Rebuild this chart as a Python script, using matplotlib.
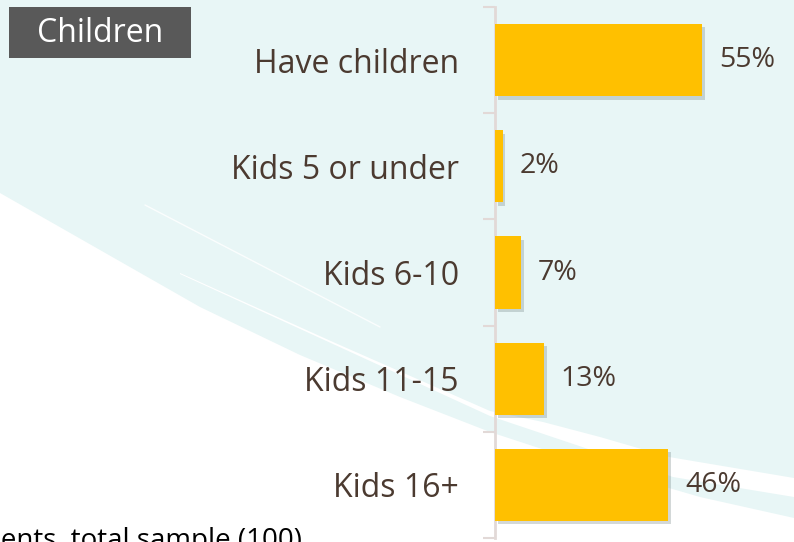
import matplotlib.pyplot as plt
import matplotlib.patheffects as pe
from matplotlib.patches import Polygon, Rectangle
import numpy as np

plt.rcParams['font.family'] = ['Open Sans', 'DejaVu Sans']

categories = ["Have children", "Kids 5 or under", "Kids 6-10", "Kids 11-15", "Kids 16+"]
values = [55, 2, 7, 13, 46]
value_labels = ["55%", "2%", "7%", "13%", "46%"]
title = "Children"
base_note = "Base: all respondents, total sample (100)"

bar_color = "#FFC000"
text_color = "#4B3A30"
bg_cyan = "#E8F6F6"
spine_color = "#E2D9D7"

W, H = 794, 542
fig = plt.figure(figsize=(W / 100, H / 100), dpi=100)
fig.patch.set_facecolor("white")

# decorative background swoosh, in pixel coordinates
bg = fig.add_axes([0, 0, 1, 1], zorder=-1)
bg.set_xlim(0, W)
bg.set_ylim(H, 0)
bg.axis("off")
edge = [(0, 193), (100, 250), (200, 307), (300, 355), (400, 397), (490, 432),
        (600, 468), (700, 497), (794, 518)]
bg.add_patch(Polygon([(0, 0), (W, 0)] + edge[::-1], closed=True,
                     facecolor=bg_cyan, edgecolor="none"))
stripe_top = [(180, 273), (333, 342), (490, 411), (543, 422), (600, 437), (669, 457), (794, 478)]
stripe_bot = [(794, 497), (673, 477), (600, 453), (490, 416), (333, 344), (180, 274)]
bg.add_patch(Polygon(stripe_top + stripe_bot, closed=True, facecolor="white", edgecolor="none"))
bg.plot([145, 380], [205, 327], color="white", lw=1, alpha=0.8, solid_capstyle="round")

# section title box
bg.add_patch(Rectangle((9, 7), 182, 51, facecolor="#595959", edgecolor="none"))
bg.text(100, 33, title, ha="center", va="center", fontsize=23, color="white")

# main bar chart
ax = fig.add_axes([495 / W, 4 / H, (W - 495) / W, 531 / H])
ax.patch.set_alpha(0)
y = np.arange(len(categories))
bars = ax.barh(y, values, height=0.68, color=bar_color, zorder=3)
for b in bars:
    b.set_path_effects([pe.SimplePatchShadow(offset=(2, -2.5), shadow_rgbFace="#6f7f80", alpha=0.3),
                        pe.Normal()])

ax.set_xlim(0, (W - 495) / 3.77)
ax.set_ylim(len(categories) - 0.5, -0.5)

for spine in ["top", "right", "bottom"]:
    ax.spines[spine].set_visible(False)
ax.spines["left"].set_color(spine_color)
ax.spines["left"].set_linewidth(2)

ax.set_xticks([])
ax.set_yticks(y)
ax.set_yticklabels(categories, fontsize=23, color=text_color)
ax.tick_params(axis="y", which="major", length=0, pad=26)
ax.set_yticks(np.arange(len(categories) + 1) - 0.5, minor=True)
ax.tick_params(axis="y", which="minor", length=8.6, width=1.5, color=spine_color)

for yi, v, lab in zip(y, values, value_labels):
    ax.annotate(lab, (v, yi), xytext=(12, 0), textcoords="offset points",
                va="center", ha="left", fontsize=20.5, color=text_color)

fig.text(302 / W, 1 - 527 / H, base_note, ha="right", va="top", fontsize=20, color="black")

fig.savefig("out.png", dpi=100)
